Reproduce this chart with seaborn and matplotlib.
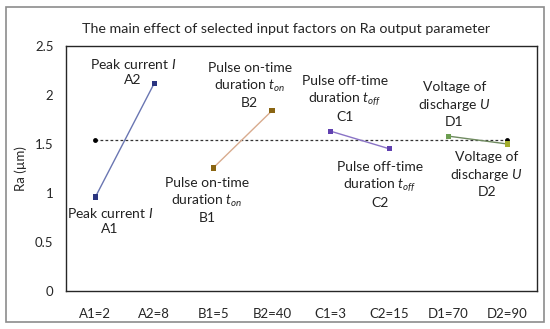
import numpy as np
import pandas as pd
import matplotlib
matplotlib.use("Agg")
import matplotlib.pyplot as plt
from matplotlib.patches import Rectangle
import seaborn as sns

# data
levels = ["A1=2", "A2=8", "B1=5", "B2=40", "C1=3", "C2=15", "D1=70", "D2=90"]
factors = ["A", "A", "B", "B", "C", "C", "D", "D"]
ra = [0.96, 2.12, 1.255, 1.84, 1.63, 1.45, 1.58, 1.50]
mean_ra = 1.545

line_colors = {"A": "#6a76b2", "B": "#d8ab8e", "C": "#8a73c6", "D": "#6f8a60"}
marker_colors = ["#2b3580", "#2b3580", "#8a6512", "#8a6512",
                 "#6040b0", "#6040b0", "#6c9e50", "#a3ad2c"]

df = pd.DataFrame({"level": levels, "factor": factors, "Ra": ra,
                   "pos": np.arange(len(levels))})
mean_df = pd.DataFrame({"pos": [0, len(levels) - 1], "Ra": [mean_ra, mean_ra]})

sns.set_style("white")
plt.rcParams["font.family"] = ["Lato", "DejaVu Sans"]
plt.rcParams["mathtext.fontset"] = "custom"
plt.rcParams["mathtext.it"] = "Lato:italic"
plt.rcParams["mathtext.rm"] = "Lato"

fig = plt.figure(figsize=(5.5, 3.29), dpi=100)
ax = fig.add_axes([0.12, 0.1155, 0.856, 0.7447])

# outer frame around the whole chart
fig.patches.append(Rectangle((0.011, 0.021), 0.978, 0.957, transform=fig.transFigure,
                             fill=False, edgecolor="#8c8c8c", linewidth=1.2))

# mean line
sns.lineplot(data=mean_df, x="pos", y="Ra", ax=ax, color="#333333", linestyle=(0, (2.2, 1.8)),
             linewidth=0.9, marker="o", markersize=3.5, markeredgewidth=0,
             markerfacecolor="black")

# factor lines
sns.lineplot(data=df, x="pos", y="Ra", hue="factor", palette=line_colors, ax=ax,
             linewidth=1.0, legend=False)
sns.scatterplot(data=df, x="pos", y="Ra", hue="level",
                palette=dict(zip(levels, marker_colors)), marker="s", s=14,
                linewidth=0, ax=ax, legend=False, zorder=5)

ax.set_xlim(-0.5, len(levels) - 0.5)
ax.set_ylim(0, 2.5)
ax.set_xticks(df["pos"])
ax.set_xticklabels(levels, fontsize=9.5)
ax.set_yticks([0, 0.5, 1, 1.5, 2, 2.5])
ax.set_yticklabels(["0", "0.5", "1", "1.5", "2", "2.5"], fontsize=9.5)
ax.tick_params(axis="x", length=0, pad=12)
ax.tick_params(axis="y", length=0, pad=9)
ax.set_xlabel("")
ax.set_ylabel("Ra (µm)", fontsize=9.5, labelpad=6)
for s in ax.spines.values():
    s.set_color("#262626")
    s.set_linewidth(1.0)

fig.text(0.52, 0.912, "The main effect of selected input factors on Ra output parameter",
         ha="center", va="center", fontsize=10.3)

fs = 10
ann = [
    (0.64, 2.24, "Peak current $I$\nA2"),
    (2.62, 2.10, "Pulse on-time\nduration $t_{on}$\nB2"),
    (4.24, 1.96, "Pulse off-time\nduration $t_{off}$\nC1"),
    (6.1, 1.90, "Voltage of\ndischarge $U$\nD1"),
    (0.25, 0.72, "Peak current $I$\nA1"),
    (1.9, 0.92, "Pulse on-time\nduration $t_{on}$\nB1"),
    (4.83, 1.08, "Pulse off-time\nduration $t_{off}$\nC2"),
    (6.65, 1.19, "Voltage of\ndischarge $U$\nD2"),
]
for x, y, t in ann:
    ax.text(x, y, t, ha="center", va="center", fontsize=fs, linespacing=1.3,
            color="#222222")

fig.savefig("out.png", dpi=100)
